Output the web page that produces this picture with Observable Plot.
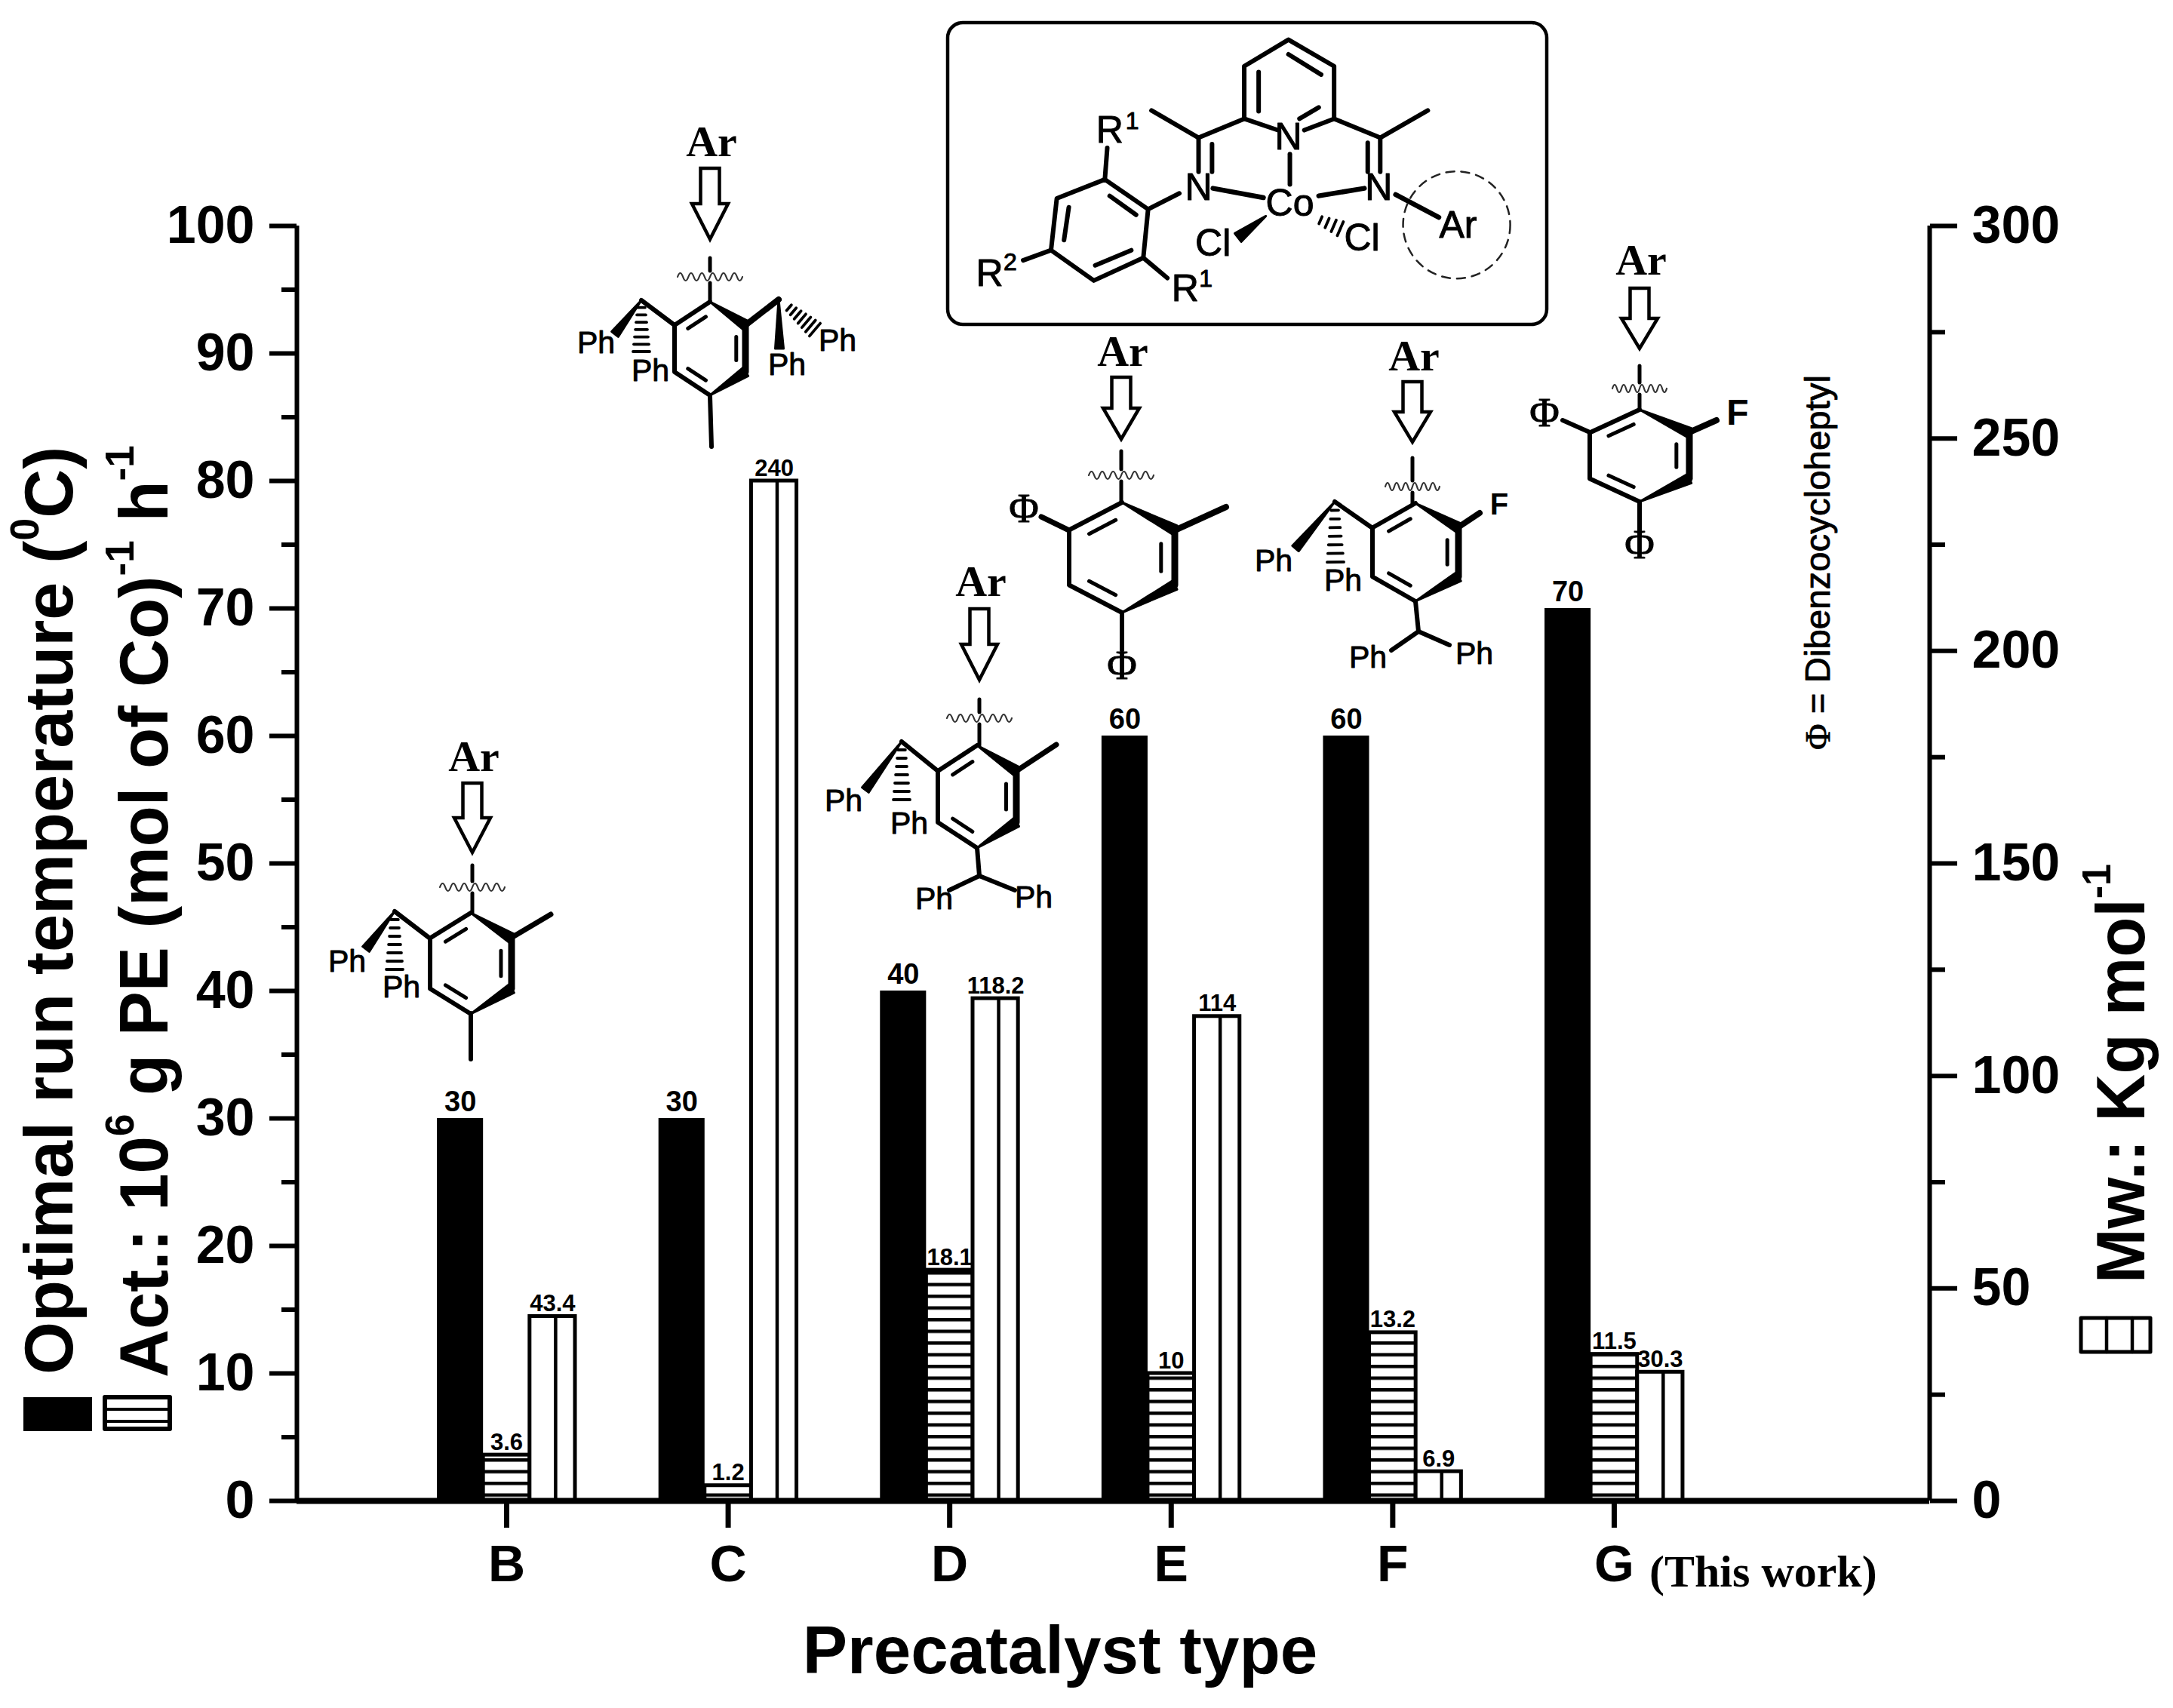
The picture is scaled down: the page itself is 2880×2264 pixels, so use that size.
<!DOCTYPE html>
<html><head><meta charset="utf-8">
<script src="https://cdn.jsdelivr.net/npm/d3@7"></script>
<script src="https://cdn.jsdelivr.net/npm/@observablehq/plot@0.6"></script>
<style>html,body{margin:0;padding:0;background:#fff}svg{display:block}</style>
</head><body><div id="chart"></div>
<script>
const categories = ["B","C","D","E","F","G"];
const temperature = [30,30,40,60,60,70];
const activity = [3.6,1.2,18.1,10,13.2,11.5];
const molecularWeight = [43.4,240,118.2,114,6.9,30.3];
const leftMajorTicks = [0,10,20,30,40,50,60,70,80,90,100];
const leftMinorTicks = [5,15,25,35,45,55,65,75,85,95];
const rightMajorTicks = [0,50,100,150,200,250,300];
const rightMinorTicks = [25,75,125,175,225,275];

const SANS = "Liberation Sans", SERIF = "Liberation Serif";
const idx = categories.map((_, i) => i);
const table = vals => vals.map((v, i) => ({i, v}));
const tempRows = table(temperature), actRows = table(activity), mwRows = table(molecularWeight);
const edges = [-0.313, -0.105, 0.105, 0.31];
const mwOnLeft = v => v / 3;

// ---------- drawing helpers for the inset chemistry (not data) ----------
function defsMark() {
  const g = d3.create("svg:g");
  const p = g.append("defs").append("pattern").attr("id","hatchH")
    .attr("patternUnits","userSpaceOnUse").attr("x",0).attr("y",1979.5).attr("width",40).attr("height",15.5);
  p.append("rect").attr("width",40).attr("height",15.5).attr("fill","#fff");
  p.append("rect").attr("width",40).attr("height",4.5).attr("fill","#000");
  return g.node();
}
function chem() {
  const g = d3.create("svg:g").attr("stroke-linecap","round").attr("stroke-linejoin","round").attr("text-anchor","start");
  const L = (pts, w=6, c="#000") => g.append("path").attr("d","M"+pts.map(p=>p.join(",")).join("L"))
      .attr("fill","none").attr("stroke",c).attr("stroke-width",w);
  const W = (a, b, w=11) => { // solid wedge, narrow at a
    const dx=b[0]-a[0], dy=b[1]-a[1], n=Math.hypot(dx,dy), ux=-dy/n*w/2, uy=dx/n*w/2;
    g.append("path").attr("d",`M${a[0]},${a[1]}L${b[0]+ux},${b[1]+uy}L${b[0]-ux},${b[1]-uy}Z`).attr("fill","#000").attr("stroke","#000").attr("stroke-width",3);
  };
  const H = (a, b, w=22, nn=7) => { // hashed wedge
    const dx=b[0]-a[0], dy=b[1]-a[1], n=Math.hypot(dx,dy), ux=-dy/n, uy=dx/n;
    for (let i=1;i<=nn;i++){ const t=i/nn, cx=a[0]+dx*t, cy=a[1]+dy*t, h=w/2*(0.35+0.65*t);
      L([[cx-ux*h,cy-uy*h],[cx+ux*h,cy+uy*h]],3.8); }
  };
  const T = (s, x, y, size=40, opt={}) => g.append("text").attr("x",x).attr("y",y).text(s)
      .attr("font-size",size).attr("font-family",opt.family||SANS).attr("font-weight",opt.weight||"normal")
      .attr("text-anchor",opt.anchor||"middle").attr("fill","#000")
      .attr("stroke",opt.bolden?"#000":"none").attr("stroke-width",opt.bolden||0);
  const rot = (parts, x, y, size, opt={}) => {
    const t = g.append("text").attr("transform",`translate(${x},${y}) rotate(-90) scale(${opt.sx||1},1)`).attr("text-anchor","start")
      .attr("font-size",size).attr("font-family",opt.family||SANS).attr("font-weight",opt.weight||"bold").attr("fill","#000");
    if (opt.length) t.attr("textLength",opt.length).attr("lengthAdjust","spacingAndGlyphs");
    if (opt.bolden) t.attr("stroke","#000").attr("stroke-width",opt.bolden);
    let shift = 0;
    parts.forEach(p => {
      const s = t.append("tspan").text(p.s);
      const up = p.sup ? -0.5*size : 0;
      s.attr("dy", up - shift); shift = up;
      if (p.sup) s.attr("font-size", size*0.6);
      if (p.family) s.attr("font-family", p.family);
    });
  };
  function ring(cx, cy, r, hw) {
    const top=[cx,cy-r], ul=[cx-hw,cy-r/2], ll=[cx-hw,cy+r/2], bot=[cx,cy+r], lr=[cx+hw,cy+r/2], ur=[cx+hw,cy-r/2];
    L([top,ul,ll,bot]);
    W(top,ur,13); W(bot,lr,13); L([ur,lr],9);
    const inner=(a,b)=>{const f=.74,s=.16;const A=[cx+(a[0]-cx)*f,cy+(a[1]-cy)*f],B=[cx+(b[0]-cx)*f,cy+(b[1]-cy)*f];
      L([[A[0]+(B[0]-A[0])*s,A[1]+(B[1]-A[1])*s],[B[0]-(B[0]-A[0])*s,B[1]-(B[1]-A[1])*s]],5);};
    inner(top,ul); inner(ur,lr); inner(ll,bot);
  }
  function pointer(x, base, aTop, tip, stubTop, waveY, ringTop, waveHalf=43) {
    T("Ar", x+2, base, 58, {family:SERIF, weight:"bold"});
    const s=12.5, h=24, neck=tip-(tip-aTop)*0.5;
    g.append("path").attr("d",`M${x-s},${aTop}H${x+s}V${neck}H${x+h}L${x},${tip}L${x-h},${neck}H${x-s}Z`)
      .attr("fill","#fff").attr("stroke","#000").attr("stroke-width",4.5).attr("stroke-linejoin","miter");
    L([[x,stubTop],[x,waveY-8]],5); L([[x,waveY+8],[x,ringTop]],5);
    const st=waveHalf/6; let d=`M${x-waveHalf},${waveY}q${st/2},-10 ${st},0`; for(let i=0;i<11;i++) d+=`t${st},0`;
    g.append("path").attr("d",d).attr("fill","none").attr("stroke","#333").attr("stroke-width",2.2);
  }
  const PH=(x,y)=>T("Ph",x,y,41,{bolden:0.9});
  const PHI=(x,y)=>T("Φ",x,y,54,{family:SERIF,bolden:1});

  // --- main complex in its rounded box
  g.append("rect").attr("x",1256).attr("y",30).attr("width",794).attr("height",400).attr("rx",20)
    .attr("fill","#fff").attr("stroke","#000").attr("stroke-width",4.5);
  const M=(X,Y)=>[1200+X/1.57,Y/2.985];
  const LM=(arr,w=6)=>L(arr.map(p=>M(p[0],p[1])),w);
  LM([[705,470],[705,262],[797,157],[892,262],[892,470]]);
  LM([[735,285],[735,440]]); LM([[797,215],[865,295]]); LM([[860,425],[820,470]]);
  LM([[775,515],[705,470],[610,545],[512,437]]); LM([[830,515],[892,470],[988,545],[1087,437]]);
  LM([[610,545],[610,680]]); LM([[638,570],[638,680]]); LM([[962,565],[962,680]]); LM([[988,545],[988,680]]);
  LM([[800,610],[800,730]]); LM([[640,745],[745,782]],6.5); LM([[860,775],[955,745]],6.5);
  LM([[570,765],[505,828],[415,710],[315,785],[303,990],[392,1110],[495,1020],[505,828]]);
  LM([[425,775],[480,850]]); LM([[340,820],[330,950]]); LM([[395,1050],[470,990]]);
  LM([[415,710],[420,585]]); LM([[495,1020],[545,1100]]); LM([[303,990],[245,1030]]);
  LM([[1020,770],[1110,860]],6.5);
  W(M(750,855),M(692,940),14); H(M(850,860),M(905,905),20,4);
  const TM=(s,X,Y,sz=50)=>{const p=M(X,Y);T(s,p[0],p[1],sz,{bolden:1});};
  TM("N",797,590);TM("N",610,790);TM("N",985,790);TM("Co",800,855);TM("Cl",640,1012);TM("Cl",950,990);TM("Ar",1150,940);
  TM("R",425,565);TM("1",472,510,32);TM("R",175,1130);TM("2",218,1070,32);TM("R",582,1190);TM("1",625,1135,32);
  {const c=M(1147,890); g.append("circle").attr("cx",c[0]).attr("cy",c[1]).attr("r",71).attr("fill","none")
    .attr("stroke","#222").attr("stroke-width",2.5).attr("stroke-dasharray","11 9");}

  // --- B
  ring(624,1277,67,54); pointer(626,1022,1038,1130,1147,1176,1210);
  L([[676,1244],[730,1212]],7); L([[624,1343],[624,1404]]);
  L([[570,1244],[523,1208]]); W([523,1208],[485,1258]); H([523,1208],[523,1285]);
  PH(460,1288); PH(532,1322);
  // --- C
  ring(941,462,62,47); pointer(941,207,223,317,342,367,400);
  L([[941,525],[943,592]]);
  L([[894,431],[850,398]]); W([850,398],[815,443]); H([850,398],[850,466]);
  PH(790,468); PH(862,505);
  L([[988,431],[1032,397]],8); W([1032,397],[1033,462]); H([1040,403],[1080,437]);
  PH(1043,497); PH(1110,465);
  // --- D
  ring(1295,1056,68,52); pointer(1298,790,807,901,927,952,988);
  L([[1347,1022],[1400,987]],7);
  L([[1243,1022],[1195,983]]); W([1195,983],[1147,1047]); H([1195,983],[1195,1060]);
  PH(1118,1075); PH(1205,1105);
  L([[1295,1124],[1298,1161]]); L([[1258,1180],[1298,1161],[1345,1180]]);
  PH(1238,1205); PH(1370,1203);
  // --- E
  ring(1487,739,73,70); pointer(1486,485,500,582,598,630,666);
  L([[1557,703],[1625,672]],8); L([[1417,703],[1380,685]],7); L([[1487,812],[1487,862]]);
  PHI(1357,692); PHI(1487,900);
  // --- F
  ring(1876,732,65,57); pointer(1872,491,506,586,607,645,667,36);
  L([[1931,700],[1961,680]],8);
  L([[1819,700],[1769,665]]); W([1769,665],[1717,727]); H([1769,665],[1770,745]);
  T("F",1987,682,40,{weight:"bold"}); PH(1688,757); PH(1780,783);
  L([[1876,797],[1880,837]]); L([[1844,862],[1880,837],[1921,855]]);
  PH(1813,885); PH(1954,880);
  // --- G
  ring(2173,604,61,66); pointer(2173,364,382,462,485,515,543,36);
  L([[2239,573],[2275,557]],8); L([[2107,573],[2071,557]],6); L([[2173,665],[2173,708]]);
  T("F",2303,563,48,{weight:"bold"}); PHI(2047,565); PHI(2173,740);

  // --- rotated note
  rot([{s:"Φ",family:SERIF},{s:" = Dibenzocycloheptyl"}],2425,994,46,{weight:"normal",length:497,bolden:0.8});

  // --- "This work", axis title
  T("(This work)",2186,2103,60,{family:SERIF,weight:"bold",anchor:"start"});
  T("Precatalyst type",1405,2218,89,{weight:"bold"});

  // --- legend titles and swatches
  rot([{s:"Optimal run temperature ("},{s:"0",sup:1},{s:"C)"}],96,1822,90);
  rot([{s:"Act.: 10"},{s:"6",sup:1},{s:" g PE (mol of Co)"},{s:"-1",sup:1},{s:" h"},{s:"-1",sup:1}],222,1826,90,{sx:.984});
  rot([{s:"Mw.: Kg mol"},{s:"-1",sup:1}],2842,1701,90,{sx:.968});
  g.append("rect").attr("x",31).attr("y",1852).attr("width",91).attr("height",45).attr("fill","#000");
  g.append("rect").attr("x",139).attr("y",1852).attr("width",86).attr("height",42).attr("fill","#fff").attr("stroke","#000").attr("stroke-width",6);
  L([[139,1868],[225,1868]],4); L([[139,1884],[225,1884]],4);
  g.append("rect").attr("x",2758).attr("y",1747).attr("width",92).attr("height",45).attr("fill","#fff").attr("stroke","#000").attr("stroke-width",5);
  L([[2792,1747],[2792,1792]],4.5); L([[2826,1747],[2826,1792]],4.5);
  return g.node();
}

// ---------- chart ----------
const xLo = -0.9469, xHi = 6.424;
const axisFont = {fontSize:70, fontWeight:"bold", fontFamily:SANS};
const plot = Plot.plot({
  width:2880, height:2264, marginLeft:393, marginRight:323, marginTop:299, marginBottom:275,
  style:{background:"#fff", fontFamily:SANS, color:"#000"},
  x:{domain:[xLo,xHi]},
  y:{domain:[0,100]},
  marks:[
    defsMark,
    chem,
    Plot.rectY(tempRows,{x1:d=>d.i+edges[0],x2:d=>d.i+edges[1],y1:0,y2:"v",fill:"#000"}),
    Plot.rectY(actRows,{x1:d=>d.i+edges[1],x2:d=>d.i+edges[2],y1:0,y2:"v",fill:"url(#hatchH)",stroke:"#000",strokeWidth:5}),
    Plot.rectY(mwRows,{x1:d=>d.i+edges[2],x2:d=>d.i+edges[3],y1:0,y2:d=>mwOnLeft(d.v),fill:"#fff",stroke:"#000",strokeWidth:5}),
    Plot.ruleX(mwRows,{x:d=>d.i+0.221,y1:0,y2:d=>mwOnLeft(d.v),stroke:"#000",strokeWidth:4.5}),
    Plot.text(tempRows,{x:d=>d.i+(edges[0]+edges[1])/2,y:"v",text:d=>String(d.v),dy:-10,lineAnchor:"bottom",fontSize:38,fontWeight:"bold",fontFamily:SANS}),
    Plot.text(actRows,{x:d=>d.i+(edges[1]+edges[2])/2,y:"v",text:d=>String(d.v),dy:-7,lineAnchor:"bottom",fontSize:31,fontWeight:"bold",fontFamily:SANS}),
    Plot.text(mwRows,{x:d=>d.i+(edges[2]+edges[3])/2,y:d=>mwOnLeft(d.v),text:d=>String(d.v),dy:-7,lineAnchor:"bottom",fontSize:31,fontWeight:"bold",fontFamily:SANS}),
    Plot.ruleX([xLo],{stroke:"#000",strokeWidth:6}),
    Plot.ruleX([xHi],{stroke:"#000",strokeWidth:6}),
    Plot.ruleY([0],{stroke:"#000",strokeWidth:8}),
    Plot.axisY(leftMajorTicks,{anchor:"left",tickSize:36,tickPadding:20,strokeWidth:6,label:null,...axisFont}),
    Plot.axisY(leftMinorTicks,{anchor:"left",tickSize:20,strokeWidth:6,label:null,fill:"none",tickFormat:()=>""}),
    Plot.axisY(rightMajorTicks.map(mwOnLeft),{anchor:"right",tickSize:36,tickPadding:20,strokeWidth:6,label:null,tickFormat:d=>String(Math.round(d*3)),...axisFont}),
    Plot.axisY(rightMinorTicks.map(mwOnLeft),{anchor:"right",tickSize:20,strokeWidth:6,label:null,fill:"none",tickFormat:()=>""}),
    Plot.axisX(idx,{anchor:"bottom",tickSize:36,tickPadding:22,strokeWidth:7,label:null,tickFormat:i=>categories[i],fontSize:68,fontWeight:"bold",fontFamily:SANS})
  ]
});
document.getElementById("chart").appendChild(plot);
</script></body></html>
